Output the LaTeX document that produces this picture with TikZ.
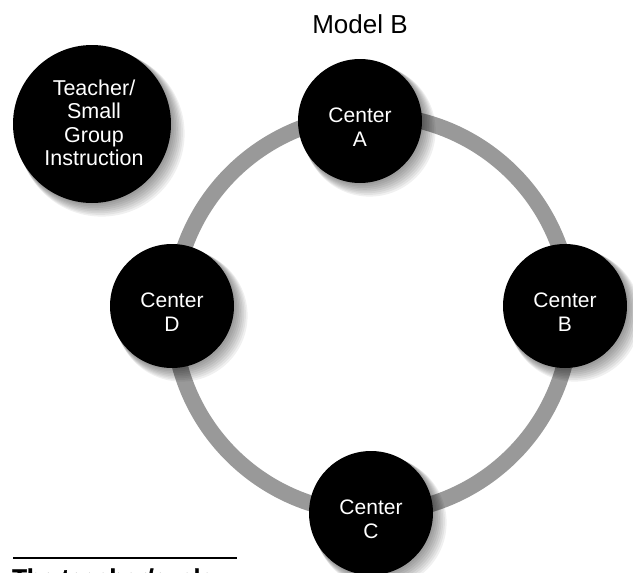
\documentclass[tikz,border=0pt]{standalone}
\usepackage{fontspec}
\setmainfont{Liberation Sans}
\newfontfamily\heavyfont[FakeBold=1.5]{Liberation Sans Bold}
\definecolor{ringgray}{gray}{0.6}
\begin{document}
\begin{tikzpicture}[x=1pt,y=-1pt,
  disc/.style={circle, fill=black, inner sep=0pt, minimum size=#1},
  disctext/.style={text=white, align=center, inner sep=0pt,
    font=\fontsize{21}{24}\selectfont},
  halo/.style={black, opacity=0.06}]
\useasboundingbox (0,0) rectangle (633,573);
\clip (0,0) rectangle (633,573);
% ring
\coordinate (o) at (372,314);
\draw[line width=16pt, ringgray] (o) circle (199pt);
% soft shadows
\foreach \x/\y/\r in {360/121/62, 565/306/62, 172/306/62, 371/513/62, 92/124/79}{
  \foreach \k in {1,...,8}{
    \fill[halo] (\x+1.2*\k,\y+1.2*\k) circle ({\r+0.5*\k pt});
  }
}
% discs
\node[disc=124pt] (ca) at (360,121) {};
\node[disc=124pt] (cb) at (565,306) {};
\node[disc=124pt] (cc) at (371,513) {};
\node[disc=124pt] (cd) at (172,306) {};
\node[disc=158pt] (tg) at (92,124) {};
% texts
\node[disctext] (ta) at ([yshift=-6pt]ca.center) {Center\\A};
\node[disctext] (tb) at ([yshift=-6pt]cb.center) {Center\\B};
\node[disctext] (tc) at ([yshift=-6pt]cc.center) {Center\\C};
\node[disctext] (td) at ([yshift=-6pt]cd.center) {Center\\D};
\node[disctext, font=\fontsize{21.5}{23.5}\selectfont] (tt) at ([xshift=2pt,yshift=1pt]tg.center)
  {Teacher/\\Small\\Group\\Instruction};
% title
\node[font=\fontsize{26}{30}\selectfont, inner sep=0pt] (title) at (360,24) {Model B};
% bottom rule and caption
\coordinate (r1) at (13,558);
\coordinate (r2) at (237,558);
\draw[line width=1.3pt] (r1) -- (r2);
\node[anchor=base west, inner sep=0pt, font=\fontsize{24}{28}\selectfont\heavyfont] (cap) at (12,586) {The teacher/cycle};
\end{tikzpicture}
\end{document}
